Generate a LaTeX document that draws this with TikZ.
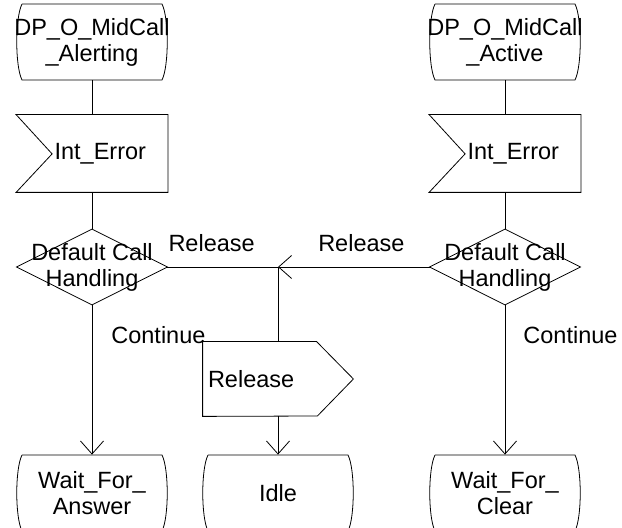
\documentclass[tikz,border=0pt]{standalone}
\usepackage{fontspec}
\setmainfont{Liberation Sans}
\usetikzlibrary{arrows.meta}
\tikzset{
  sdl/.style={font=\fontsize{23.5}{26}\selectfont, inner sep=0pt, align=center},
  statebox/.style={sdl, minimum width=150pt, minimum height=76pt},
  inputbox/.style={sdl, minimum width=151pt, minimum height=77pt, text width=108pt, align=right},
  decisionbox/.style={sdl, minimum width=150pt, minimum height=75pt},
  outputbox/.style={sdl, minimum width=150pt, minimum height=74pt, text width=140pt, align=left},
  lbl/.style={sdl},
  flow/.style={-{Straight Barb[length=13pt,width=23pt]}}
}

\begin{document}
\begin{tikzpicture}[x=1pt, y=1pt, line width=0.8pt]
    \useasboundingbox (0,0) rectangle (622,528);

    % left branch
    \node[statebox] (alerting) at (92,486) {DP\_O\_MidCall\\\_Alerting};
    \node[inputbox] (errleft) at (92,374.5) {Int\_Error};
    \node[decisionbox] (defleft) at (92,261) {Default Call\\Handling};
    \node[statebox] (answer) at (92,35) {Wait\_For\_\\Answer};

    % right branch
    \node[statebox] (active) at (505,486) {DP\_O\_MidCall\\\_Active};
    \node[inputbox] (errright) at (505,374.5) {Int\_Error};
    \node[decisionbox] (defright) at (505,261) {Default Call\\Handling};
    \node[statebox] (clear) at (505,35) {Wait\_For\_\\Clear};

    % release
    \node[outputbox] (release) at (278,149) {Release};
    \node[statebox] (idle) at (278,35) {Idle};
    \coordinate (join) at (release.north |- defleft.east);

    % outlines
    \draw (alerting.center) ++(-70,38) -- ++(140,0) .. controls +(7,-14) and +(7,14) .. ++(0,-76) -- ++(-140,0) .. controls +(-7,14) and +(-7,-14) .. ++(0,76);
    \draw (active.center) ++(-70,38) -- ++(140,0) .. controls +(7,-14) and +(7,14) .. ++(0,-76) -- ++(-140,0) .. controls +(-7,14) and +(-7,-14) .. ++(0,76);
    \draw (answer.center) ++(-70,38) -- ++(140,0) .. controls +(7,-14) and +(7,14) .. ++(0,-76) -- ++(-140,0) .. controls +(-7,14) and +(-7,-14) .. ++(0,76);
    \draw (clear.center) ++(-70,38) -- ++(140,0) .. controls +(7,-14) and +(7,14) .. ++(0,-76) -- ++(-140,0) .. controls +(-7,14) and +(-7,-14) .. ++(0,76);
    \draw (idle.center) ++(-70,38) -- ++(140,0) .. controls +(7,-14) and +(7,14) .. ++(0,-76) -- ++(-140,0) .. controls +(-7,14) and +(-7,-14) .. ++(0,76);
    \draw (errleft.north west) -- (errleft.north east) -- (errleft.south east) -- (errleft.south west) -- ++(36,38.5) -- cycle;
    \draw (errright.north west) -- (errright.north east) -- (errright.south east) -- (errright.south west) -- ++(36,38.5) -- cycle;
    \draw (defleft.north) -- (defleft.east) -- (defleft.south) -- (defleft.west) -- cycle;
    \draw (defright.north) -- (defright.east) -- (defright.south) -- (defright.west) -- cycle;
    \draw (release.north west) -- ++(114,0) -- (release.east) -- ++(-36,-37) -- (release.south west) -- cycle;

    % connectors
    \draw (alerting.south) -- (errleft.north);
    \draw (errleft.south) -- (defleft.north);
    \draw[flow] (defleft.south) -- node[lbl, pos=0.2, right=19pt] {Continue} (answer.north);
    \draw (active.south) -- (errright.north);
    \draw (errright.south) -- (defright.north);
    \draw[flow] (defright.south) -- node[lbl, pos=0.2, right=18pt] {Continue} (clear.north);
    \draw (defleft.east) -- node[lbl, pos=0.4, above=15pt] {Release} (join);
    \draw[flow] (defright.west) -- node[lbl, pos=0.45, above=15pt] {Release} (join);
    \draw (join) -- (release.north);
    \draw[flow] (release.south) -- (idle.north);

\end{tikzpicture}
\end{document}
